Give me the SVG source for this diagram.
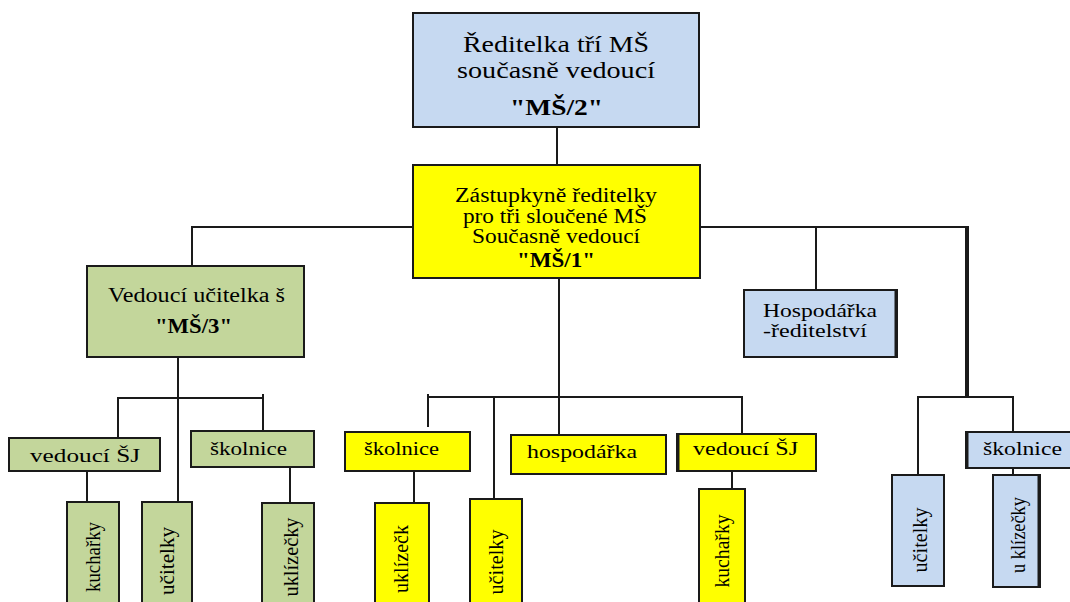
<svg xmlns="http://www.w3.org/2000/svg" width="1070" height="602" viewBox="0 0 1070 602">
<style>
.b{stroke:#1a1a1a;stroke-width:2}
.blue{fill:#c6d9f1}
.yel{fill:#ffff00}
.grn{fill:#c3d69b}
.ln{stroke:#1a1a1a;stroke-width:2;fill:none}
.thick{stroke:#1a1a1a;stroke-width:4;fill:none}
text{font-family:"Liberation Serif","Times New Roman",serif;fill:#000}
.t24{font-size:24px}
.t19{font-size:20px}
.t18{font-size:19px}
.tv{font-size:21px}
.bold{font-weight:bold}
</style>
<rect width="1070" height="602" fill="#fff"/>
<g id="connectors">
<path class="ln" d="M557 127V165"/>
<path class="ln" d="M192 266V227H967"/>
<path class="ln" d="M816 227V290"/>
<path class="thick" d="M967 226V398"/>
<path class="ln" d="M918 475V397H1013V432"/>
<path class="ln" d="M1013 468V475"/>
<path class="ln" d="M178 357V502"/>
<path class="ln" d="M118 438V398H263"/>
<path class="ln" d="M263 394V431"/>
<path class="ln" d="M87 471V502"/>
<path class="ln" d="M290 467V503"/>
<path class="ln" d="M559 278V435"/>
<path class="ln" d="M428 427V397H742V434"/>
<path class="ln" d="M428 394V397"/>
<path class="ln" d="M494 397V499"/>
<path class="ln" d="M414 471V503"/>
<path class="ln" d="M732 471V489"/>
</g>
<g id="n-reditelka">
<rect class="b blue" x="413" y="13" width="286" height="114"/>
<text class="t24" x="463" y="52" textLength="186" lengthAdjust="spacingAndGlyphs">Ředitelka tří MŠ</text>
<text class="t24" x="457" y="78" textLength="198" lengthAdjust="spacingAndGlyphs">současně vedoucí</text>
<text class="t24 bold" x="510" y="115" textLength="93" lengthAdjust="spacingAndGlyphs">"MŠ/2"</text>
</g>
<g id="n-zastupkyne">
<rect class="b yel" x="413" y="165" width="287" height="113"/>
<text class="t19" x="455" y="202" textLength="202" lengthAdjust="spacingAndGlyphs">Zástupkyně ředitelky</text>
<text class="t19" x="463" y="223" textLength="184" lengthAdjust="spacingAndGlyphs">pro tři sloučené MŠ</text>
<text class="t19" x="472" y="243" textLength="168" lengthAdjust="spacingAndGlyphs">Současně vedoucí</text>
<text class="t19 bold" x="517" y="267" textLength="78" lengthAdjust="spacingAndGlyphs">"MŠ/1"</text>
</g>
<g id="n-vedouci-ms3">
<rect class="b grn" x="87" y="266" width="217" height="91"/>
<text class="t19" x="108" y="302" textLength="177" lengthAdjust="spacingAndGlyphs">Vedoucí učitelka š</text>
<text class="t19 bold" x="155" y="333" textLength="77" lengthAdjust="spacingAndGlyphs">"MŠ/3"</text>
</g>
<g id="n-hospodarka-reditelstvi">
<rect class="b blue" x="744" y="290" width="153" height="67"/>
<path class="thick" d="M896 290V357" style="stroke-width:3"/>
<text class="t18" x="763" y="317" textLength="114" lengthAdjust="spacingAndGlyphs">Hospodářka</text>
<text class="t18" x="763" y="337" textLength="104" lengthAdjust="spacingAndGlyphs">-ředitelství</text>
</g>
<g id="n-l-vedouci-sj">
<rect class="b grn" x="9" y="438" width="151" height="33"/>
<text class="t18" x="30" y="462" textLength="110" lengthAdjust="spacingAndGlyphs">vedoucí ŠJ</text>
</g>
<g id="n-l-skolnice">
<rect class="b grn" x="191" y="431" width="123" height="36"/>
<text class="t18" x="210" y="455" textLength="77" lengthAdjust="spacingAndGlyphs">školnice</text>
</g>
<g id="n-l-kucharky">
<rect class="b grn" x="67" y="502" width="52" height="110"/>
<text class="tv" transform="translate(100 557) rotate(-90)" text-anchor="middle" textLength="70" lengthAdjust="spacingAndGlyphs">kuchařky</text>
</g>
<g id="n-l-ucitelky">
<rect class="b grn" x="142" y="502" width="50" height="110"/>
<text class="tv" transform="translate(174 561) rotate(-90)" text-anchor="middle" textLength="68" lengthAdjust="spacingAndGlyphs">učitelky</text>
</g>
<g id="n-l-uklizecky">
<rect class="b grn" x="262" y="503" width="52" height="110"/>
<text class="tv" transform="translate(298 557) rotate(-90)" text-anchor="middle" textLength="79" lengthAdjust="spacingAndGlyphs">uklízečky</text>
</g>
<g id="n-m-skolnice">
<rect class="b yel" x="345" y="432" width="125" height="39"/>
<text class="t18" x="364" y="455" textLength="75" lengthAdjust="spacingAndGlyphs">školnice</text>
</g>
<g id="n-m-hospodarka">
<rect class="b yel" x="511" y="435" width="155" height="39"/>
<text class="t18" x="527" y="458" textLength="110" lengthAdjust="spacingAndGlyphs">hospodářka</text>
</g>
<g id="n-m-vedouci-sj">
<rect class="b yel" x="677" y="434" width="139" height="37"/>
<path class="thick" d="M678 434V471" style="stroke-width:3"/>
<text class="t18" x="693" y="455" textLength="105" lengthAdjust="spacingAndGlyphs">vedoucí ŠJ</text>
</g>
<g id="n-m-uklizeck">
<rect class="b yel" x="375" y="503" width="54" height="110"/>
<text class="tv" transform="translate(408 559) rotate(-90)" text-anchor="middle" textLength="68" lengthAdjust="spacingAndGlyphs">uklízečk</text>
</g>
<g id="n-m-ucitelky">
<rect class="b yel" x="470" y="499" width="52" height="110"/>
<text class="tv" transform="translate(503 562) rotate(-90)" text-anchor="middle" textLength="65" lengthAdjust="spacingAndGlyphs">učitelky</text>
</g>
<g id="n-m-kucharky">
<rect class="b yel" x="699" y="489" width="46" height="120"/>
<text class="tv" transform="translate(729 551) rotate(-90)" text-anchor="middle" textLength="73" lengthAdjust="spacingAndGlyphs">kuchařky</text>
</g>
<g id="n-r-skolnice">
<rect class="b blue" x="966" y="432" width="110" height="36"/>
<path class="thick" d="M967 432V468" style="stroke-width:3"/>
<text class="t18" x="983" y="455" textLength="79" lengthAdjust="spacingAndGlyphs">školnice</text>
</g>
<g id="n-r-ucitelky">
<rect class="b blue" x="892" y="475" width="52" height="111"/>
<text class="tv" transform="translate(927 540) rotate(-90)" text-anchor="middle" textLength="65" lengthAdjust="spacingAndGlyphs">učitelky</text>
</g>
<g id="n-r-uklizecky">
<rect class="b blue" x="993" y="475" width="47" height="112"/>
<path class="thick" d="M1039 475V587" style="stroke-width:3"/>
<text class="tv" transform="translate(1025 535) rotate(-90)" text-anchor="middle" textLength="76" lengthAdjust="spacingAndGlyphs">u klízečky</text>
</g>
</svg>
